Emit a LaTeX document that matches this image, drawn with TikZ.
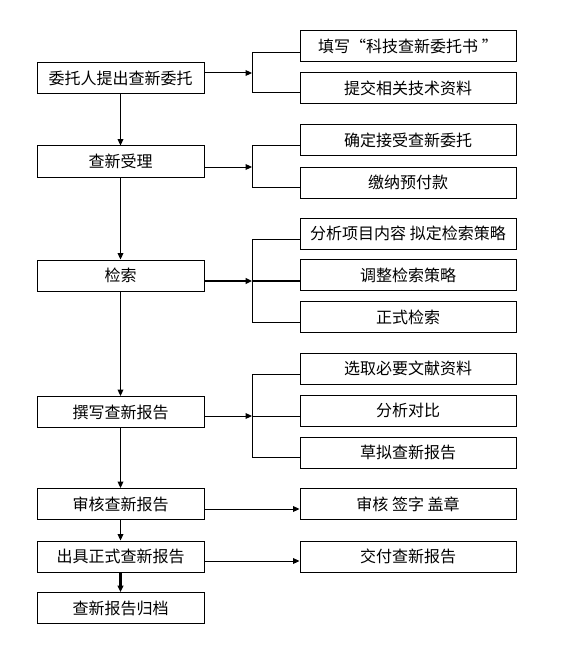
\documentclass[tikz,border=0pt]{standalone}
\usepackage{fontspec}
\setmainfont{Noto Sans CJK SC}
\usetikzlibrary{arrows.meta}
\tikzset{
  box/.style={draw, line width=0.75pt, inner sep=0pt, minimum height=23.25pt, font=\fontsize{12}{14}\selectfont},
  lbox/.style={box, minimum width=125.25pt},
  rbox/.style={box, minimum width=162pt},
  ln/.style={line width=0.75pt},
  thk/.style={line width=1.6pt},
  arr/.style={-{Triangle[length=4.8pt,width=4.3pt]}},
}
\begin{document}
\begin{tikzpicture}[x=0.75pt,y=-0.75pt]
\useasboundingbox (0,0) rectangle (566,663);
% left column
\node[lbox] (b1) at (120.5,78) {委托人提出查新委托};
\node[lbox] (b2) at (120.5,161.5) {查新受理};
\node[lbox] (b3) at (120.5,275.5) {检索};
\node[lbox] (b4) at (120.5,412) {撰写查新报告};
\node[lbox] (b5) at (120.5,504) {审核查新报告};
\node[lbox] (b6) at (120.5,556.5) {出具正式查新报告};
\node[lbox] (b7) at (120.5,608) {查新报告归档};
% right column
\node[rbox] (r1) at (408,46.5) {填写“科技查新委托书 ”};
\node[rbox] (r2) at (408,88.5) {提交相关技术资料};
\node[rbox] (r3) at (408,140) {确定接受查新委托};
\node[rbox] (r4) at (408,182.5) {缴纳预付款};
\node[rbox] (r5) at (408,233.5) {分析项目内容\ 拟定检索策略};
\node[rbox] (r6) at (408,275) {调整检索策略};
\node[rbox] (r7) at (408,317) {正式检索};
\node[rbox] (r8) at (408,368.5) {选取必要文献资料};
\node[rbox] (r9) at (408,410.5) {分析对比};
\node[rbox] (r10) at (408,452.5) {草拟查新报告};
\node[rbox] (r11) at (408,504) {审核\ 签字\ 盖章};
\node[rbox] (r12) at (408,556.5) {交付查新报告};
% vertical flow
\draw[ln,arr] (b1) -- (b2);
\draw[ln,arr] (b2) -- (b3);
\draw[ln,arr] (b3) -- (b4);
\draw[ln,arr] (b4) -- (b5);
\draw[ln,arr] (b5) -- (b6);
\draw[thk,arr] (b6) -- (b7);
% junction coordinates
\coordinate (j1) at (252,73);
\coordinate (j2) at (252,167);
\coordinate (j3) at (252,281);
\coordinate (j4) at (252,416);
\coordinate (t1) at (252,53);  \coordinate (e1) at (252,93);
\coordinate (t2) at (252,146); \coordinate (e2) at (252,187);
\coordinate (t3) at (252,239); \coordinate (e3) at (252,322);
\coordinate (t4) at (252,374); \coordinate (e4) at (252,457);
% branch arrows
\draw[ln,arr] (b1.east |- j1) -- (j1);
\draw[ln,arr] (b2.east |- j2) -- (j2);
\draw[thk,arr] (b3.east |- j3) -- (j3);
\draw[ln,arr] (b4.east |- j4) -- (j4);
% brackets
\draw[ln] (r1.west |- t1) -- (t1) -- (e1) -- (r2.west |- e1);
\draw[ln] (r3.west |- t2) -- (t2) -- (e2) -- (r4.west |- e2);
\draw[ln] (r5.west |- t3) -- (t3) -- (e3) -- (r7.west |- e3);
\draw[thk] (j3) -- (r6.west |- j3);
\draw[ln] (r8.west |- t4) -- (t4) -- (e4) -- (r10.west |- e4);
\draw[ln] (j4) -- (r9.west |- j4);
% direct arrows
\coordinate (k5) at (0,509);
\coordinate (k6) at (0,561);
\draw[ln,arr] (b5.east |- k5) -- (r11.west |- k5);
\draw[ln,arr] (b6.east |- k6) -- (r12.west |- k6);
\end{tikzpicture}
\end{document}
